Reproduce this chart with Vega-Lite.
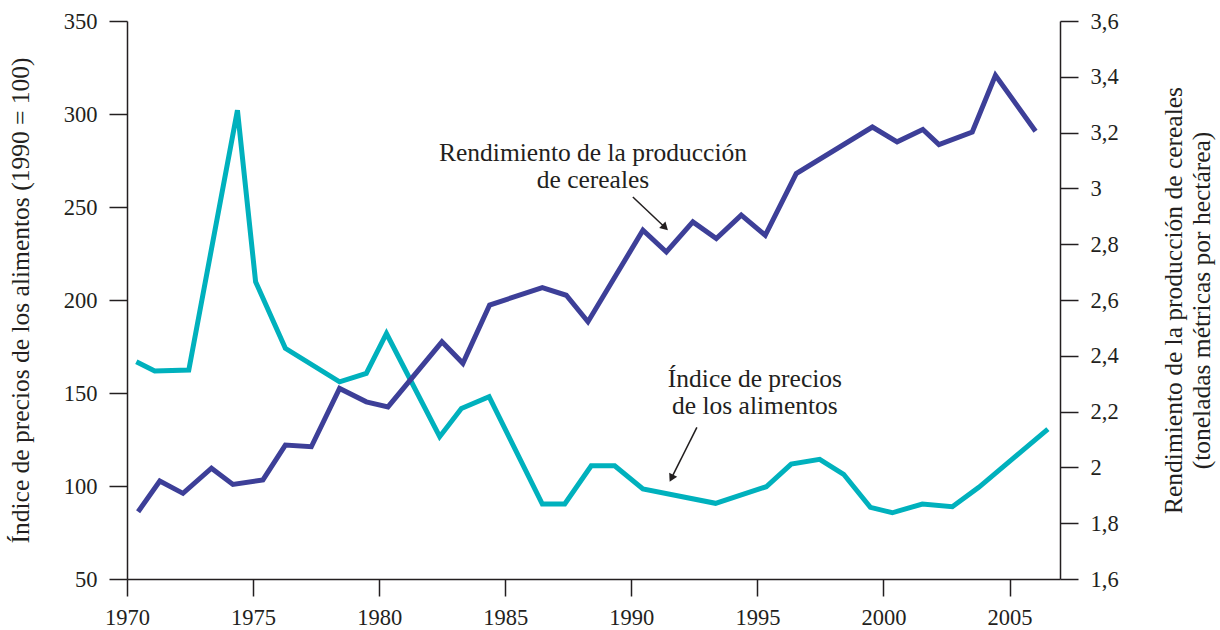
{
  "$schema": "https://vega.github.io/schema/vega-lite/v6.json",
  "width": 933,
  "height": 558,
  "autosize": "none",
  "padding": {"left": 127, "top": 21, "right": 160, "bottom": 51},
  "background": "white",
  "config": {
    "view": {"stroke": null},
    "font": "Liberation Serif",
    "axis": {
      "grid": false,
      "labelFlush": false,
      "labelOverlap": false,
      "domainColor": "#231f20",
      "domainWidth": 1.5,
      "tickColor": "#231f20",
      "tickWidth": 1.5,
      "tickSize": 18,
      "labelFont": "Liberation Serif",
      "labelFontSize": 22.5,
      "labelColor": "#231f20",
      "labelPadding": 12,
      "titleFont": "Liberation Serif",
      "titleFontSize": 25.5,
      "titleFontWeight": "normal",
      "titleColor": "#231f20"
    }
  },
  "datasets": {
    "food": [
      {"year": 1970.37, "index": 166.8},
      {"year": 1971.10, "index": 161.8},
      {"year": 1972.45, "index": 162.3},
      {"year": 1974.38, "index": 302.0},
      {"year": 1975.10, "index": 209.8},
      {"year": 1976.28, "index": 174.0},
      {"year": 1978.43, "index": 156.0},
      {"year": 1979.49, "index": 160.5},
      {"year": 1980.29, "index": 182.0},
      {"year": 1982.40, "index": 126.5},
      {"year": 1983.26, "index": 141.7},
      {"year": 1984.36, "index": 148.0},
      {"year": 1986.47, "index": 90.3},
      {"year": 1987.36, "index": 90.3},
      {"year": 1988.41, "index": 110.9},
      {"year": 1989.34, "index": 110.9},
      {"year": 1990.46, "index": 98.4},
      {"year": 1993.34, "index": 90.7},
      {"year": 1995.35, "index": 99.6},
      {"year": 1996.34, "index": 111.8},
      {"year": 1997.47, "index": 114.3},
      {"year": 1998.42, "index": 106.3},
      {"year": 1999.48, "index": 88.5},
      {"year": 2000.35, "index": 85.6},
      {"year": 2001.54, "index": 90.3},
      {"year": 2002.73, "index": 88.9},
      {"year": 2003.78, "index": 99.3},
      {"year": 2006.52, "index": 130.6}
    ],
    "cereal": [
      {"year": 1970.44, "yield": 1.841},
      {"year": 1971.30, "yield": 1.951},
      {"year": 1972.22, "yield": 1.907},
      {"year": 1973.35, "yield": 1.997},
      {"year": 1974.20, "yield": 1.939},
      {"year": 1975.39, "yield": 1.955},
      {"year": 1976.28, "yield": 2.080},
      {"year": 1977.31, "yield": 2.074},
      {"year": 1978.43, "yield": 2.283},
      {"year": 1979.49, "yield": 2.235},
      {"year": 1980.35, "yield": 2.217},
      {"year": 1982.49, "yield": 2.450},
      {"year": 1983.32, "yield": 2.373},
      {"year": 1984.38, "yield": 2.582},
      {"year": 1986.47, "yield": 2.644},
      {"year": 1987.42, "yield": 2.617},
      {"year": 1988.28, "yield": 2.522},
      {"year": 1990.46, "yield": 2.850},
      {"year": 1991.39, "yield": 2.772},
      {"year": 1992.44, "yield": 2.880},
      {"year": 1993.37, "yield": 2.820},
      {"year": 1994.36, "yield": 2.904},
      {"year": 1995.31, "yield": 2.832},
      {"year": 1996.54, "yield": 3.053},
      {"year": 1999.56, "yield": 3.220},
      {"year": 2000.54, "yield": 3.167},
      {"year": 2001.56, "yield": 3.211},
      {"year": 2002.20, "yield": 3.157},
      {"year": 2003.52, "yield": 3.202},
      {"year": 2004.44, "yield": 3.405},
      {"year": 2006.03, "yield": 3.205}
    ],
    "notes": [
      {"label": "Rendimiento de la producción", "year": 1988.48, "index": 274.8},
      {"label": "de cereales", "year": 1988.48, "index": 260.3},
      {"label": "Índice de precios", "year": 1994.90, "index": 153.3},
      {"label": "de los alimentos", "year": 1994.90, "index": 138.5}
    ],
    "arrows": [
      {"arrow": "cereal", "year": 1990.06, "index": 255.4, "year2": 1991.34, "index2": 239.0},
      {"arrow": "food", "year": 1992.60, "index": 131.5, "year2": 1991.59, "index2": 104.2}
    ]
  },
  "layer": [
    {
      "data": {"name": "food"},
      "mark": {"type": "line", "color": "#00b1bd", "strokeWidth": 5, "strokeJoin": "miter", "strokeCap": "butt"},
      "encoding": {
        "x": {"field": "year", "type": "quantitative", "scale": {"domain": [1970, 2007], "nice": false, "zero": false},
          "axis": {"values": [1970, 1975, 1980, 1985, 1990, 1995, 2000, 2005], "format": "d", "title": null, "tickSize": 17, "labelPadding": 10}},
        "y": {"field": "index", "type": "quantitative", "scale": {"domain": [50, 350], "nice": false, "zero": false},
          "axis": {"orient": "left", "values": [50, 100, 150, 200, 250, 300, 350], "title": "Índice de precios de los alimentos (1990 = 100)", "titleAngle": -90, "titleX": -107, "titleY": 279, "titleBaseline": "middle", "titleAlign": "center"}}
      }
    },
    {
      "data": {"name": "cereal"},
      "mark": {"type": "line", "color": "#3d3f98", "strokeWidth": 5, "strokeJoin": "miter", "strokeCap": "butt"},
      "encoding": {
        "x": {"field": "year", "type": "quantitative", "scale": {"domain": [1970, 2007], "nice": false, "zero": false}},
        "y": {"field": "yield", "type": "quantitative", "scale": {"domain": [1.6, 3.6], "nice": false, "zero": false},
          "axis": {"orient": "right", "values": [1.6, 1.8, 2.0, 2.2, 2.4, 2.6, 2.8, 3.0, 3.2, 3.4, 3.6], "labelExpr": "replace(format(datum.value, '.2~f'), '.', ',')",
            "title": ["Rendimiento de la producción de cereales", "(toneladas métricas por hectárea)"], "titleAngle": -90, "titleX": 113, "titleY": 279, "titleBaseline": "middle", "titleAlign": "center", "titleLineHeight": 28}}
      }
    },
    {
      "data": {"name": "notes"},
      "mark": {"type": "text", "align": "center", "baseline": "alphabetic", "fontSize": 25.5, "color": "#231f20", "font": "Liberation Serif"},
      "encoding": {
        "x": {"field": "year", "type": "quantitative", "scale": {"domain": [1970, 2007], "nice": false, "zero": false}},
        "y": {"field": "index", "type": "quantitative", "scale": {"domain": [50, 350], "nice": false, "zero": false}, "axis": null},
        "text": {"field": "label"}
      }
    },
    {
      "data": {"name": "arrows"},
      "mark": {"type": "rule", "color": "#231f20", "strokeWidth": 1.5},
      "encoding": {
        "x": {"field": "year", "type": "quantitative", "scale": {"domain": [1970, 2007], "nice": false, "zero": false}},
        "y": {"field": "index", "type": "quantitative", "scale": {"domain": [50, 350], "nice": false, "zero": false}, "axis": null},
        "x2": {"field": "year2"},
        "y2": {"field": "index2"}
      }
    },
    {
      "data": {"name": "arrows"},
      "transform": [{"filter": "datum.arrow == 'cereal'"}],
      "mark": {"type": "point", "shape": "triangle-up", "filled": true, "color": "#231f20", "size": 80, "angle": 134, "opacity": 1},
      "encoding": {
        "x": {"field": "year2", "type": "quantitative", "scale": {"domain": [1970, 2007], "nice": false, "zero": false}},
        "y": {"field": "index2", "type": "quantitative", "scale": {"domain": [50, 350], "nice": false, "zero": false}, "axis": null}
      }
    },
    {
      "data": {"name": "arrows"},
      "transform": [{"filter": "datum.arrow == 'food'"}],
      "mark": {"type": "point", "shape": "triangle-up", "filled": true, "color": "#231f20", "size": 80, "angle": 207, "opacity": 1},
      "encoding": {
        "x": {"field": "year2", "type": "quantitative", "scale": {"domain": [1970, 2007], "nice": false, "zero": false}},
        "y": {"field": "index2", "type": "quantitative", "scale": {"domain": [50, 350], "nice": false, "zero": false}, "axis": null}
      }
    }
  ],
  "resolve": {"scale": {"y": "independent"}}
}
